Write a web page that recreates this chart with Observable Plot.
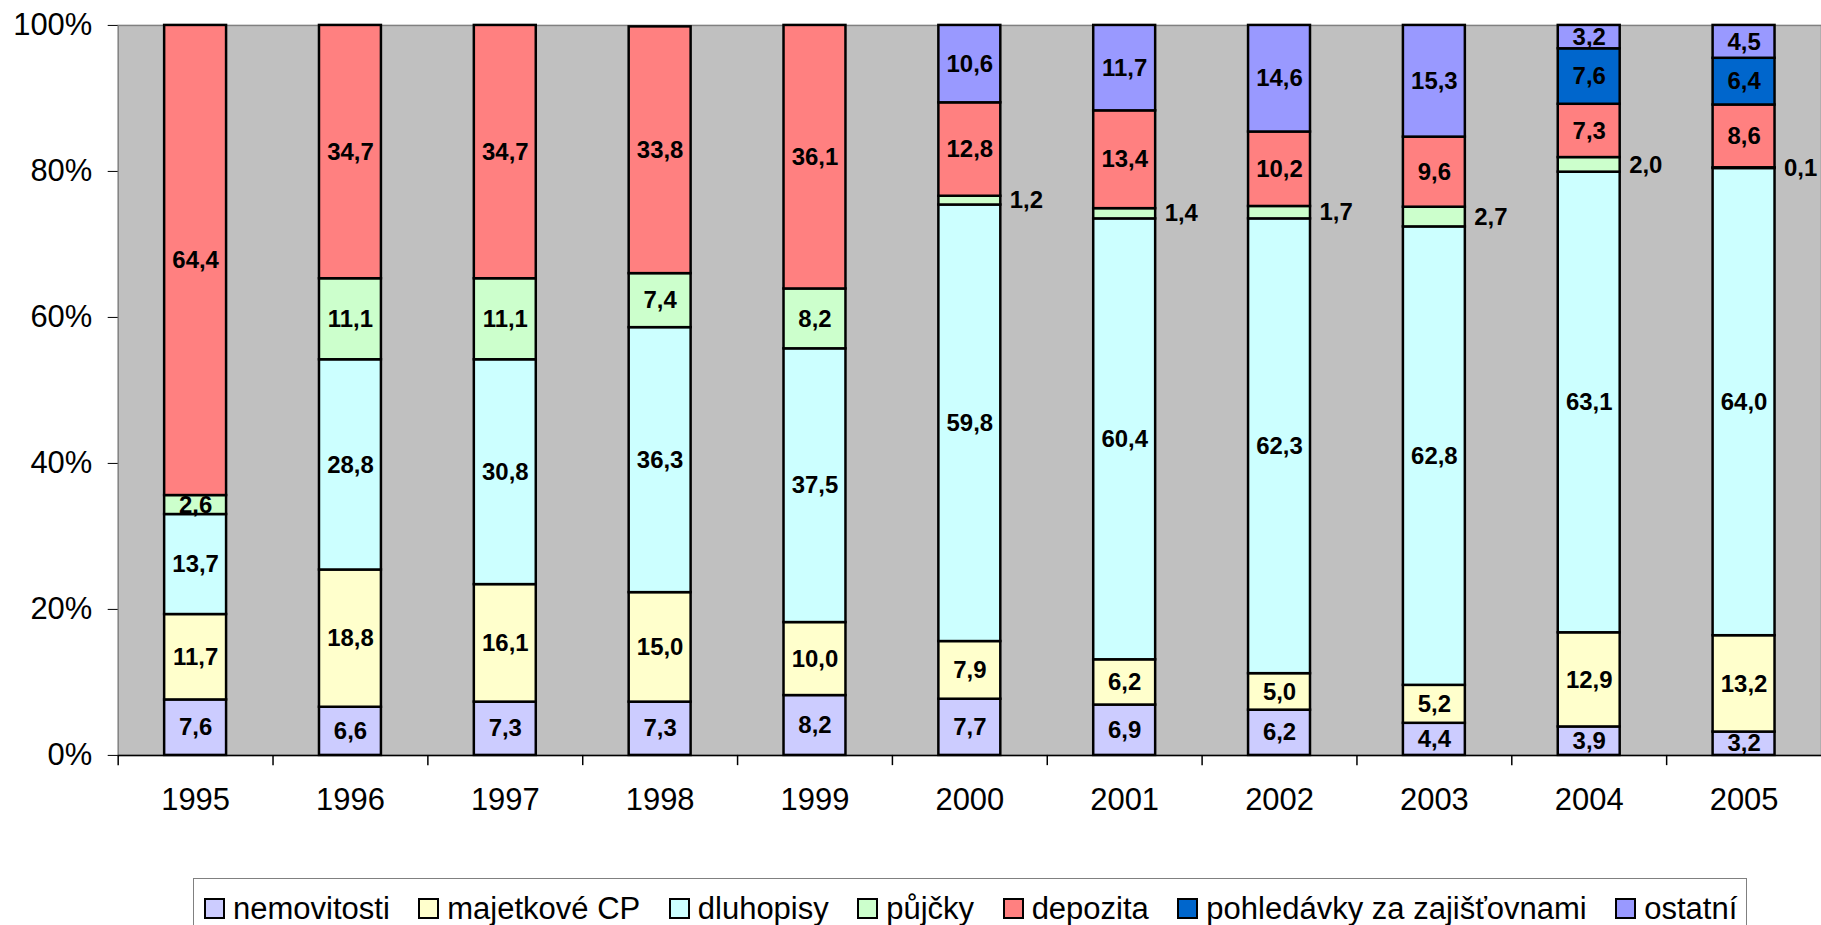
<!DOCTYPE html>
<html>
<head>
<meta charset="utf-8">
<script src="https://cdn.jsdelivr.net/npm/d3@7"></script>
<script src="https://cdn.jsdelivr.net/npm/@observablehq/plot@0.6"></script>
<style>
  html, body { margin: 0; padding: 0; background: #fff; }
  #wrap { position: relative; width: 1821px; height: 925px; overflow: hidden; font-family: "Liberation Sans", Arial, sans-serif; color: #000; }
  #legend { position: absolute; left: 193px; top: 878px; height: 70px; border: 1.5px solid #808080; background: #fff;
            display: flex; align-items: flex-start; padding: 14px 9px 0 10px; box-sizing: border-box; font-size: 31px; line-height: 31px; white-space: nowrap; }
  .item { display: flex; align-items: center; margin-right: 28.5px; }
  .item:last-child { margin-right: 0; }
  .sw { width: 17px; height: 17px; border: 2px solid #000; margin-right: 8px; flex: none; }
</style>
</head>
<body>
<div id="wrap">
  <div id="chart"></div>
  <div id="legend"></div>
</div>
<script>
const years = ["1995","1996","1997","1998","1999","2000","2001","2002","2003","2004","2005"];
const seriesNames = ["nemovitosti","majetkové CP","dluhopisy","půjčky","depozita","pohledávky za zajišťovnami","ostatní"];
const seriesColors = ["#CCCCFF","#FFFFCC","#CCFFFF","#CCFFCC","#FF8080","#0066CC","#9999FF"];

const nemovitosti = [7.6, 6.6, 7.3, 7.3, 8.2, 7.7, 6.9, 6.2, 4.4, 3.9, 3.2];
const majetkoveCP = [11.7, 18.8, 16.1, 15.0, 10.0, 7.9, 6.2, 5.0, 5.2, 12.9, 13.2];
const dluhopisy   = [13.7, 28.8, 30.8, 36.3, 37.5, 59.8, 60.4, 62.3, 62.8, 63.1, 64.0];
const pujcky      = [2.6, 11.1, 11.1, 7.4, 8.2, 1.2, 1.4, 1.7, 2.7, 2.0, 0.1];
const depozita    = [64.4, 34.7, 34.7, 33.8, 36.1, 12.8, 13.4, 10.2, 9.6, 7.3, 8.6];
const pohledavky  = [0, 0, 0, 0, 0, 0, 0, 0, 0, 7.6, 6.4];
const ostatni     = [0, 0, 0, 0, 0, 10.6, 11.7, 14.6, 15.3, 3.2, 4.5];
const yTicks = [0, 20, 40, 60, 80, 100];
// years whose "půjčky" label sits beside the bar
const outsideLabelYears = ["2000","2001","2002","2003","2004","2005"];

const seriesValues = [nemovitosti, majetkoveCP, dluhopisy, pujcky, depozita, pohledavky, ostatni];
const data = seriesNames.flatMap((s, si) => years.map((y, yi) => ({year: y, series: s, value: seriesValues[si][yi]})));

const W = 1826, H = 870, mL = 118, mR = 0, mT = 25, mB = 113;
const step = (W - mL - mR) / years.length;
const bw = step * 0.4;
const fmt = v => v.toFixed(1).replace(".", ",");
const isOutside = d => d.series === "půjčky" && outsideLabelYears.includes(d.year);

const chart = Plot.plot({
  width: W, height: H,
  marginTop: mT, marginBottom: mB, marginLeft: mL, marginRight: mR,
  style: {fontFamily: "'Liberation Sans', Arial, sans-serif", background: "transparent", color: "#000", overflow: "visible"},
  x: {domain: years, paddingInner: 0.6, paddingOuter: 0.3, round: false, label: null},
  y: {domain: [0, 100], label: null},
  color: {domain: seriesNames, range: seriesColors},
  marks: [
    Plot.frame({fill: "#C0C0C0", stroke: "#808080", strokeWidth: 1.5}),
    Plot.barY(data, {x: "year", y: "value", fill: "series", order: seriesNames, stroke: "#000", strokeWidth: 2.5}),
    Plot.ruleY([0], {stroke: "#000", strokeWidth: 1.5}),
    Plot.ruleX(years, {x: d => d, dx: -step / 2, y1: 0, y2: -1.4, stroke: "#000", strokeWidth: 1.5}),
    Plot.axisY({ticks: yTicks, tickFormat: d => d + "%", tickSize: 10, tickPadding: 16, fontSize: 31, stroke: "#000"}),
    Plot.axisX({tickSize: 0, tickPadding: 33, fontSize: 31}),
    Plot.text(data, Plot.stackY({
      x: "year", y: "value", z: "series", order: seriesNames,
      text: d => (d.value > 0 && !isOutside(d)) ? fmt(d.value) : null,
      fontSize: 24, fontWeight: "bold", fill: "#000"
    })),
    Plot.text(data, Plot.stackY({
      x: "year", y: "value", z: "series", order: seriesNames,
      text: d => isOutside(d) ? fmt(d.value) : null,
      dx: bw / 2 + 9, textAnchor: "start",
      fontSize: 24, fontWeight: "bold", fill: "#000"
    }))
  ]
});
document.getElementById("chart").appendChild(chart);

const legend = document.getElementById("legend");
seriesNames.forEach((s, i) => {
  const item = document.createElement("div");
  item.className = "item";
  const sw = document.createElement("span");
  sw.className = "sw";
  sw.style.background = seriesColors[i];
  const t = document.createElement("span");
  t.textContent = s;
  item.appendChild(sw);
  item.appendChild(t);
  legend.appendChild(item);
});
</script>
</body>
</html>
